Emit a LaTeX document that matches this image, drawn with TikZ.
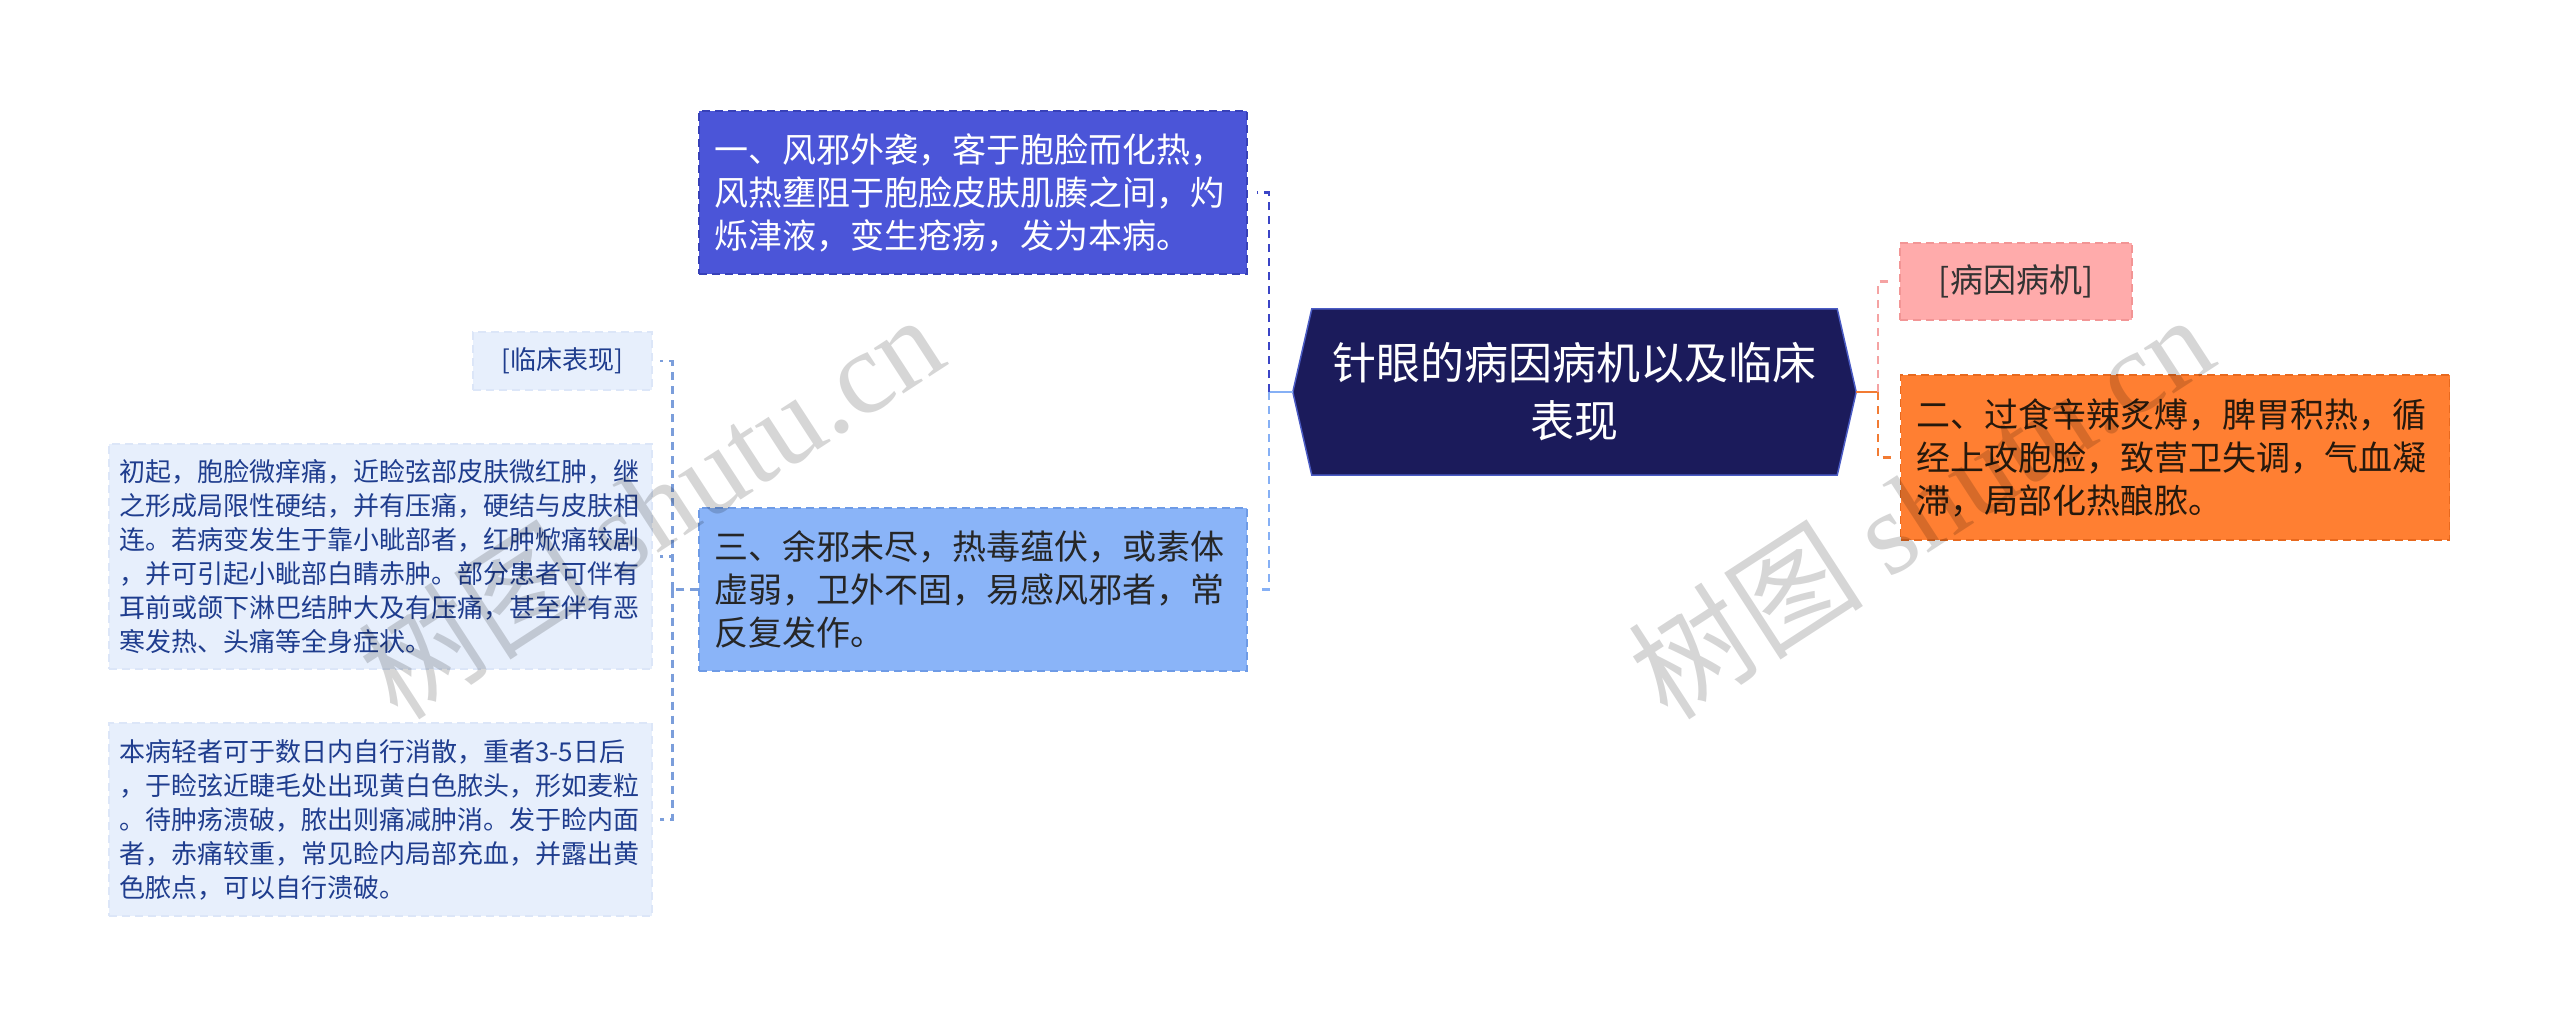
\documentclass[tikz,border=0pt]{standalone}
\usepackage{fontspec}
\setmainfont{Noto Sans CJK SC}
\newfontfamily\wmlatin{Liberation Serif}
\usetikzlibrary{calc}
\definecolor{topfill}{HTML}{4B55D8}
\definecolor{topline}{HTML}{3841B8}
\definecolor{botfill}{HTML}{8AB4F8}
\definecolor{botline}{HTML}{6E9BE6}
\definecolor{rootfill}{HTML}{1B1B5B}
\definecolor{rootline}{HTML}{4A5BC4}
\definecolor{pinkfill}{HTML}{FFABAB}
\definecolor{pinkline}{HTML}{F29595}
\definecolor{orfill}{HTML}{FF7F32}
\definecolor{orline}{HTML}{E8691E}
\definecolor{leftfill}{HTML}{E7EFFC}
\definecolor{leftline}{HTML}{DCE6F8}
\definecolor{lefttext}{HTML}{1F3D8E}
\definecolor{cleft}{HTML}{7B9EDB}
\definecolor{ctop}{HTML}{3B45C6}
\definecolor{cbot}{HTML}{86B0F5}
\definecolor{cpink}{HTML}{F5A3A3}
\definecolor{cor}{HTML}{F27B33}
\begin{document}
\begin{tikzpicture}[x=1pt,y=-1pt,
  boxbase/.style={rectangle, inner sep=0pt, line width=1.5pt, dash pattern=on 8pt off 5pt},
  bigbox/.style={boxbase, text width=518pt, align=left, minimum width=548pt, minimum height=163pt, font=\fontsize{34pt}{43pt}\selectfont},
  topbox/.style={bigbox, fill=topfill, draw=topline, text=white},
  botbox/.style={bigbox, fill=botfill, draw=botline, text=black!85},
  orbox/.style={boxbase, fill=orfill, draw=orline, text=black!80!brown, text width=518pt, align=left, minimum width=549pt, minimum height=165pt, font=\fontsize{34pt}{43pt}\selectfont},
  pinkbox/.style={boxbase, fill=pinkfill, draw=pinkline, text=black!80, minimum width=232pt, minimum height=77pt, font=\fontsize{33pt}{40pt}\selectfont},
  leftbox/.style={boxbase, fill=leftfill, draw=leftline, text=lefttext, text width=522pt, align=left, minimum width=543pt, font=\fontsize{26pt}{34pt}\selectfont},
  tagbox/.style={boxbase, fill=leftfill, draw=leftline, text=lefttext, minimum width=179pt, minimum height=58pt, font=\fontsize{26pt}{32pt}\selectfont},
  conn/.style={line width=2.5pt, dash pattern=on 8pt off 6pt},
  wm/.style={text=black, opacity=0.16, rotate=33, font=\fontsize{118pt}{118pt}\selectfont}
]
\useasboundingbox (0,0) rectangle (2560,1026);
\fill[white] (0,0) rectangle (2560,1026);

% central node
\path node[minimum width=563pt, minimum height=166pt, inner sep=0pt] (root) at (1574.5,392) {};
\draw[fill=rootfill, draw=rootline, line width=1.5pt]
  (root.west) -- ([xshift=19pt]root.north west) -- ([xshift=-19pt]root.north east)
  -- (root.east) -- ([xshift=-19pt]root.south east) -- ([xshift=19pt]root.south west) -- cycle;
\node[text=white, align=center, font=\fontsize{44pt}{58pt}\selectfont] (roottext) at (root.center) {针眼的病因病机以及临床\\表现};

% middle-left boxes
\node[topbox] (b1) at (973,192.5) {一、风邪外袭，客于胞脸而化热，\\风热壅阻于胞脸皮肤肌腠之间，灼\\烁津液，变生疮疡，发为本病。};
\node[botbox] (b3) at (973,589.5) {三、余邪未尽，热毒蕴伏，或素体\\虚弱，卫外不固，易感风邪者，常\\反复发作。};

% right boxes
\node[pinkbox] (p1) at (2016,281.5) {[病因病机]};
\node[orbox] (p2) at (2175,457.5) {二、过食辛辣炙煿，脾胃积热，循\\经上攻胞脸，致营卫失调，气血凝\\滞，局部化热酿脓。};

% left boxes
\node[tagbox] (c0) at (562.5,361) {[临床表现]};
\node[leftbox, minimum height=225pt] (c1) at (380.5,556.5) {初起，胞脸微痒痛，近睑弦部皮肤微红肿，继\\之形成局限性硬结，并有压痛，硬结与皮肤相\\连。若病变发生于靠小眦部者，红肿焮痛较剧\\，并可引起小眦部白睛赤肿。部分患者可伴有\\耳前或颌下淋巴结肿大及有压痛，甚至伴有恶\\寒发热、头痛等全身症状。};
\node[leftbox, minimum height=193pt] (c2) at (380.5,819.5) {本病轻者可于数日内自行消散，重者3-5日后\\，于睑弦近睫毛处出现黄白色脓头，形如麦粒\\。待肿疡溃破，脓出则痛减肿消。发于睑内面\\者，赤痛较重，常见睑内局部充血，并露出黄\\色脓点，可以自行溃破。};

% connectors: root to middle-left
\coordinate (mL) at ($(root.west)+(-24,0)$);
\draw[cbot, line width=2.5pt] (root.west) -- (mL);
\draw[conn, ctop] (mL) |- ($(b1.east)+(9,0)$);
\draw[conn, cbot] (mL) |- ($(b3.east)+(9,0)$);

% connectors: root to right
\coordinate (rR) at ($(root.east)+(22,0)$);
\draw[cor, line width=2.5pt] (root.east) -- (rR);
\draw[conn, cpink] (rR) |- ($(p1.west)+(-7,0)$);
\draw[conn, cor] (rR) |- ($(p2.west)+(-7,0)$);

% connectors: b3 to left boxes
\coordinate (lL) at ($(b3.west)+(-26,0)$);
\draw[conn, cleft] (b3.west) -- (lL);
\draw[conn, cleft] (lL) |- ($(c0.east)+(7,0)$);
\draw[conn, cleft] (lL) |- ($(c1.east)+(7,0)$);
\draw[conn, cleft] (lL) |- ($(c2.east)+(7,0)$);

% watermarks
\node[wm] (wm1) at (650,505) {树图 {\wmlatin shutu.cn}};
\node[wm] (wm2) at (1920,505) {树图 {\wmlatin shutu.cn}};
\end{tikzpicture}
\end{document}
